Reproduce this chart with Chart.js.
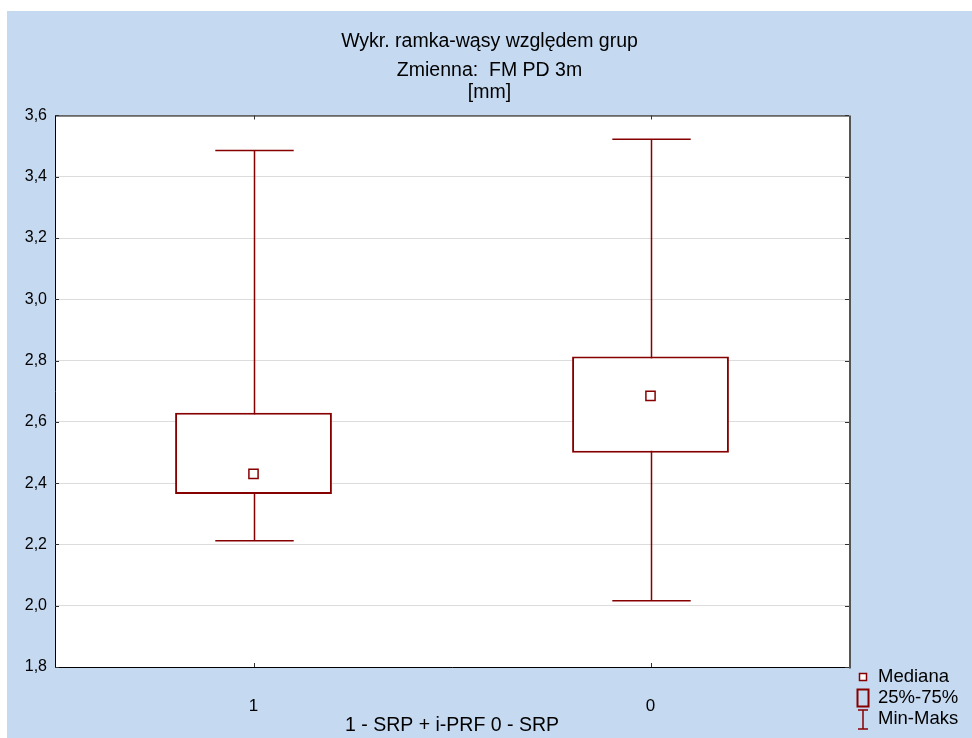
<!DOCTYPE html>
<html>
<head>
<meta charset="utf-8">
<script src="https://cdn.jsdelivr.net/npm/chart.js@4/dist/chart.umd.min.js"></script>
<style>
  html, body { margin: 0; padding: 0; background: #fff; }
  #wrap { position: absolute; left: 7px; top: 11px; width: 965px; height: 727px; background: #c5d9f1; }
</style>
</head>
<body>
<div id="wrap"><canvas id="chart" width="965" height="727"></canvas></div>
<script>
// ── DATA ──
const GROUPS   = ['1', '0'];
const MINS     = [2.212, 2.016];
const Q1S      = [2.365, 2.499];
const MEDIANS  = [2.430, 2.685];
const Q3S      = [2.630, 2.813];
const MAXS     = [3.486, 3.522];
const Y_MIN = 1.8, Y_MAX = 3.6, Y_STEP = 0.2;
const LEGEND_LABELS = ['Mediana', '25%-75%', 'Min-Maks'];

const RED  = '#870000';
const SANS = '"Liberation Sans", Arial, sans-serif';

// white plot area
const plotBg = {
  id: 'plotBg',
  beforeDraw(chart) {
    const { ctx, chartArea: a } = chart;
    ctx.save();
    ctx.fillStyle = '#fff';
    ctx.fillRect(a.left, a.top, a.right - a.left, a.bottom - a.top);
    ctx.restore();
  }
};

// whiskers + caps, drawn under the boxes
const whiskers = {
  id: 'whiskers',
  beforeDatasetsDraw(chart) {
    const { ctx, scales: { x, y } } = chart;
    const boxes = chart.getDatasetMeta(0).data;
    ctx.save();
    ctx.strokeStyle = RED;
    ctx.lineWidth = 1.5;
    GROUPS.forEach((g, i) => {
      const cx = Math.round(x.getPixelForValue(i)) + 0.5;
      const half = boxes[i].width / 4;
      const yTop = y.getPixelForValue(MAXS[i]);
      const yBot = y.getPixelForValue(MINS[i]);
      ctx.beginPath();
      ctx.moveTo(cx, yTop); ctx.lineTo(cx, yBot);
      ctx.moveTo(cx - half, yTop); ctx.lineTo(cx + half, yTop);
      ctx.moveTo(cx - half, yBot); ctx.lineTo(cx + half, yBot);
      ctx.stroke();
    });
    ctx.restore();
  }
};

// plot frame, inner ticks and the legend in the lower right corner
const frame = {
  id: 'frame',
  afterDraw(chart) {
    const { ctx, chartArea: a, scales: { x, y } } = chart;
    ctx.save();
    ctx.lineWidth = 1;
    ctx.strokeStyle = '#000';
    ctx.beginPath();
    ctx.moveTo(a.left + 0.5, a.top + 0.5);
    ctx.lineTo(a.left + 0.5, a.bottom + 0.5);
    ctx.lineTo(a.right, a.bottom + 0.5);
    ctx.moveTo(a.left, a.top + 0.5);
    ctx.lineTo(a.right, a.top + 0.5);
    ctx.stroke();
    ctx.strokeStyle = '#555';
    ctx.lineWidth = 2;
    ctx.beginPath();
    ctx.moveTo(a.right + 1, a.top);
    ctx.lineTo(a.right + 1, a.bottom + 1.5);
    ctx.stroke();

    ctx.strokeStyle = '#333';
    ctx.lineWidth = 1;
    ctx.beginPath();
    GROUPS.forEach((g, i) => {
      const px = Math.round(x.getPixelForValue(i)) + 0.5;
      ctx.moveTo(px, a.top); ctx.lineTo(px, a.top + 4);
      ctx.moveTo(px, a.bottom); ctx.lineTo(px, a.bottom - 4);
    });
    y.ticks.forEach(t => {
      const py = Math.round(y.getPixelForValue(t.value)) + 0.5;
      ctx.moveTo(a.left, py); ctx.lineTo(a.left + 4, py);
      ctx.moveTo(a.right, py); ctx.lineTo(a.right - 4, py);
    });
    ctx.stroke();

    // legend
    const ix = a.right + 14, tx = a.right + 29;
    const rows = [a.bottom + 10, a.bottom + 31, a.bottom + 52];
    ctx.strokeStyle = RED;
    ctx.fillStyle = '#fff';
    ctx.lineWidth = 1.5;
    ctx.fillRect(ix - 3.5, rows[0] - 3.5, 7, 7);
    ctx.strokeRect(ix - 3.5, rows[0] - 3.5, 7, 7);
    ctx.lineWidth = 2;
    ctx.strokeRect(ix - 5.5, rows[1] - 8.5, 11, 17);
    ctx.lineWidth = 1.5;
    ctx.beginPath();
    ctx.moveTo(ix - 5, rows[2] - 9); ctx.lineTo(ix + 5, rows[2] - 9);
    ctx.moveTo(ix, rows[2] - 9); ctx.lineTo(ix, rows[2] + 10);
    ctx.moveTo(ix - 5, rows[2] + 10); ctx.lineTo(ix + 5, rows[2] + 10);
    ctx.stroke();

    ctx.fillStyle = '#000';
    ctx.font = '18.5px ' + SANS;
    ctx.textBaseline = 'middle';
    ctx.textAlign = 'left';
    LEGEND_LABELS.forEach((t, i) => ctx.fillText(t, tx, rows[i]));
    ctx.restore();
  }
};

new Chart(document.getElementById('chart'), {
  type: 'bar',
  data: {
    labels: GROUPS,
    datasets: [{
      data: GROUPS.map((g, i) => [Q1S[i], Q3S[i]]),
      backgroundColor: '#fff',
      borderColor: RED,
      borderWidth: 2,
      borderSkipped: false,
      categoryPercentage: 1,
      barPercentage: 0.395,
      order: 2
    }, {
      type: 'line',
      data: MEDIANS,
      showLine: false,
      pointStyle: 'rect',
      pointRadius: 6.5,
      pointBackgroundColor: '#fff',
      pointBorderColor: RED,
      pointBorderWidth: 1.5,
      order: 1
    }]
  },
  options: {
    responsive: false,
    animation: false,
    events: [],
    plugins: {
      legend: { display: false },
      tooltip: { enabled: false },
      title: {
        display: true,
        text: 'Wykr. ramka-wąsy względem grup',
        color: '#000',
        font: { family: SANS, size: 19.5, weight: 'normal', lineHeight: 1.2 },
        padding: { top: 19, bottom: 6 }
      },
      subtitle: {
        display: true,
        text: ['Zmienna:  FM PD 3m', '[mm]'],
        color: '#000',
        font: { family: SANS, size: 19.5, lineHeight: 1.13 },
        padding: { top: 0, bottom: 12 }
      }
    },
    scales: {
      x: {
        offset: true,
        grid: { display: false },
        border: { display: false },
        ticks: { color: '#000', font: { family: SANS, size: 17 }, padding: 21 },
        title: {
          display: true,
          text: '1 - SRP + i-PRF 0 - SRP',
          color: '#000',
          font: { family: SANS, size: 19.5 },
          padding: { top: 0, bottom: 1 }
        },
        afterFit: s => { s.height = 71; }
      },
      y: {
        min: Y_MIN, max: Y_MAX,
        grid: { color: '#dcdcdc', drawTicks: false },
        border: { display: false },
        ticks: {
          stepSize: Y_STEP,
          color: '#000',
          font: { family: SANS, size: 16 },
          padding: 8,
          callback: v => v.toFixed(1).replace('.', ',')
        },
        afterFit: s => { s.width = 48; }
      },
      // empty right-hand axis that keeps room for the legend
      yRight: {
        position: 'right',
        min: Y_MIN, max: Y_MAX,
        grid: { display: false },
        border: { display: false },
        ticks: { display: false },
        afterFit: s => { s.width = 123; }
      }
    }
  },
  plugins: [plotBg, whiskers, frame]
});
</script>
</body>
</html>
